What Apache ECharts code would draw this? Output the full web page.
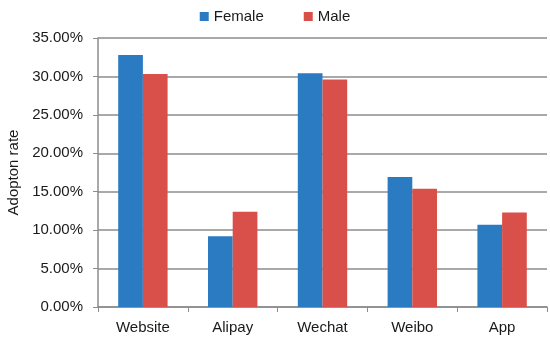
<!DOCTYPE html>
<html>
<head>
<meta charset="utf-8">
<title></title>
<style>
  html, body { margin: 0; padding: 0; background: #fff; }
  #div { width: 550px; height: 343px; }
</style>
</head>
<body>
<div id="div"></div>
<script src="https://cdn.jsdelivr.net/npm/echarts@6/dist/echarts.min.js"></script>
<script>
var categories = ['Website', 'Alipay', 'Wechat', 'Weibo', 'App'];
var female = [32.8, 9.2, 30.4, 16.9, 10.7];
var male = [30.3, 12.4, 29.6, 15.4, 12.3];

var chart = echarts.init(document.getElementById('div'));
var font = 'Liberation Sans';

var option = {
  animation: false,
  textStyle: { fontFamily: font },
  legend: {
    top: 4,
    left: 'center',
    itemWidth: 9,
    itemHeight: 9,
    itemGap: 40,
    icon: 'rect',
    textStyle: { fontSize: 15, color: '#1a1a1a', fontFamily: font },
    data: ['Female', 'Male']
  },
  grid: { left: 98, top: 38, right: 3, bottom: 36, outerBoundsMode: 'none' },
  xAxis: {
    type: 'category',
    data: categories,
    axisLine: { lineStyle: { color: '#8c8c8c', width: 1.5 } },
    axisTick: { show: true, length: 5, lineStyle: { color: '#8c8c8c' } },
    axisLabel: { fontSize: 15, color: '#1a1a1a', margin: 13 }
  },
  yAxis: {
    type: 'value',
    min: 0,
    max: 35,
    interval: 5,
    name: 'Adopton rate',
    nameLocation: 'middle',
    nameGap: 76,
    nameTextStyle: { fontSize: 15, color: '#1a1a1a' },
    axisLine: { show: true, lineStyle: { color: '#8c8c8c', width: 1.5 } },
    axisTick: { show: true, length: 5, lineStyle: { color: '#8c8c8c' } },
    axisLabel: {
      fontSize: 15,
      color: '#1a1a1a',
      margin: 15,
      formatter: function (v) { return v.toFixed(2) + '%'; }
    },
    splitLine: { lineStyle: { color: '#8c8c8c', width: 1.5 } }
  },
  series: [
    {
      name: 'Female',
      type: 'bar',
      data: female,
      barGap: '0%',
      barCategoryGap: '45%',
      itemStyle: { color: '#2b7bc3' }
    },
    {
      name: 'Male',
      type: 'bar',
      data: male,
      itemStyle: { color: '#d9504a' }
    }
  ]
};

option && chart.setOption(option);
</script>
</body>
</html>
